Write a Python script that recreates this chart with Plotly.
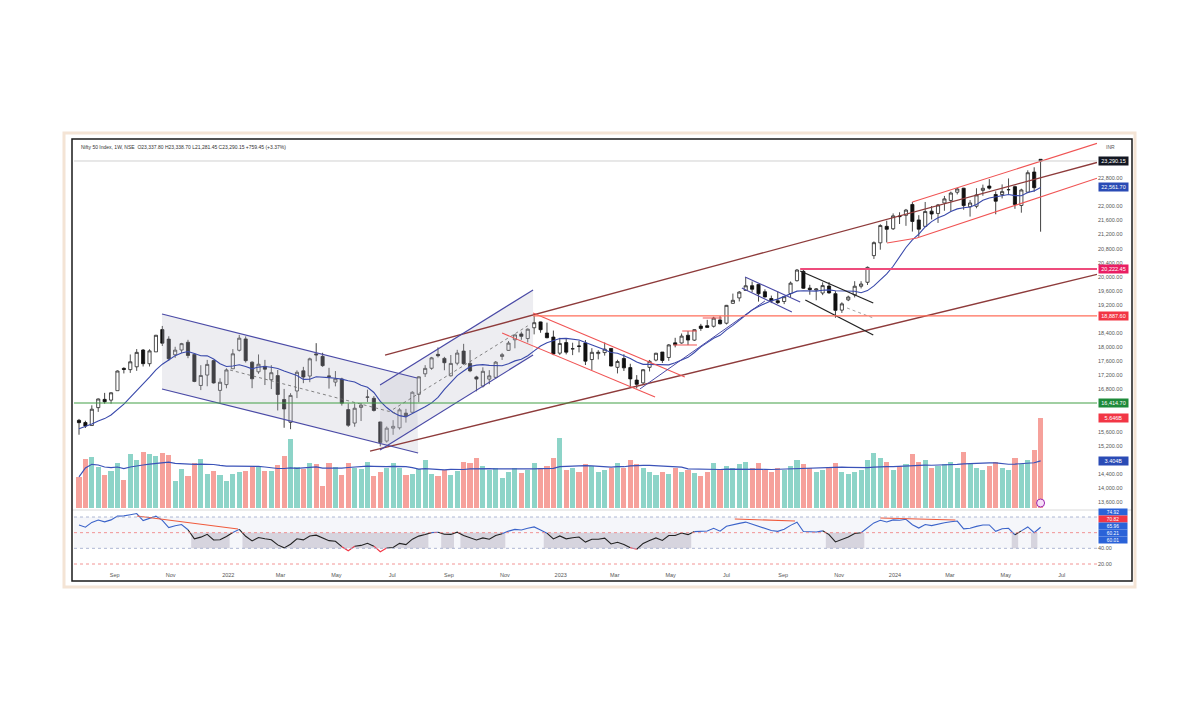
import numpy as np
import pandas as pd
import plotly.graph_objects as go

# ------------------------------------------------------------------ data
WEEK0 = "2021-07-19"   # first weekly bar (Monday)

opens = [15923,15860,15775,16283,16518,16497,16765,17399,17363,17443,17920,17531,17867,18500,18230,17784,17920,18140,17796,16913,17209,17619,16773,16937,
         17387,17913,18235,17575,17301,17456,17077,17193,16515,15867,16757,17329,17181,17810,17740,17183,17009,17097,16227,15845,16290,16578,16548,15877,15334,15700,15710,16128,16151,16662,17244,17402,17797,17682,17188,17546,17890,17540,17156,16898,17094,17144,17737,17910,18211,18377,18246,18552,18719,18402,18288,17831,
         18131,17953,18033,18119,17649,17818,17847,17965,17428,17680,17421,17066,16987,17428,17634,17863,17708,18124,18120,18340,18201,18600,18612,18595,18774,18682,19246,19400,19612,19748,19784,19576,19383,19320,19298,19525,19890,20155,19678,19622,19539,19737,19521,19053,19345,19486,19731,19844,20602,20965,21434,21365,
         21728,21747,22053,21615,21433,21865,21800,22096,22169,22403,22517,21990,22004,22455,22579,22339,22336,22475,22561,22027,22404,22977,23337.8]
highs = [15962,15911,16349,16543,16702,16722,17340,17430,17793,17947,17947,17941,18350,18604,18310,18012,18123,18210,17805,17489,17639,17640,17118,17400,
         17945,18350,18308,17599,17794,17640,17490,17352,16815,16694,17344,17442,17703,18115,17842,17414,17322,17132,16403,16400,16415,16794,16610,15886,15749,15927,16275,16248,16752,17172,17490,17724,17992,17726,17778,17925,18096,17919,17188,17428,17348,17607,17838,18175,18362,18442,18534,18888,18728,18697,18473,18266,
         18251,18127,18183,18202,17972,17916,18134,17972,17644,17800,17530,17207,17381,17638,17842,17863,18089,18267,18389,18459,18508,18663,18777,18865,18887,19201,19523,19595,19991,19867,19796,19645,19466,19584,19458,19867,20222,20195,19772,19675,19843,19849,19593,19276,19464,19875,19875,20292,21006,21493,21593,21801,
         21834,21928,22124,21750,22126,22011,22069,22297,22420,22526,22527,22180,22516,22619,22776,22427,22625,22794,22588,22502,23026,23111,23338.7]
lows = [15514,15705,15775,16162,16395,16396,16765,17255,17270,17327,17452,17452,17864,18034,17614,17697,17837,17688,17006,16782,16891,16966,16410,16833,
        17384,17879,17565,16836,17244,16925,16810,16203,15711,15671,16555,16978,17006,17600,17442,16824,16888,16341,15736,15740,15903,16444,16172,15183,15290,15511,15661,15858,16142,16438,17154,17359,17710,17345,17167,17487,17500,17291,16748,16856,16950,17098,17638,17899,17969,18210,18133,18365,18410,18255,17774,17779,
        17796,17775,17853,17494,17353,17653,17761,17455,17255,17325,16850,16828,16940,17312,17598,17553,17612,17996,18100,18060,18178,18465,18565,18558,18647,18647,19234,19300,19612,19563,19296,19412,19253,19229,19224,19425,19865,19657,19492,19333,19480,19518,18837,18973,19309,19414,19671,19768,20507,20770,20976,21330,
        21500,21448,21285,21137,21429,21629,21530,21876,21860,22340,21906,21711,21947,22303,22479,21777,22228,22348,21932,21821,22377,22418,21281.45]
closes = [15856,15763,16238,16529,16451,16705,17324,17369,17585,17853,17532,17895,18339,18115,17672,17917,18102,17765,17026,17197,17511,16985,17004,17354,
          17812,18256,17617,17102,17516,17375,17276,16658,16245,16630,17287,17153,17670,17784,17476,17172,17103,16411,15782,16266,16352,16584,16202,15293,15699,15752,16221,16049,16719,17158,17398,17698,17758,17559,17539,17833,17531,17327,17094,17315,17186,17576,17787,18117,18350,18308,18512,18696,18497,18269,17807,18105,
          17859,17956,18027,17604,17854,17856,17944,17465,17594,17413,17100,16945,17360,17599,17828,17624,18065,18069,18315,18203,18499,18534,18563,18826,18665,19189,19332,19565,19745,19646,19517,19428,19310,19266,19435,19820,20192,19674,19638,19654,19751,19543,19047,19231,19425,19732,19795,20268,20970,21457,21349,21731,
          21711,21895,21572,21353,21854,21783,22041,22213,22379,22494,22023,22097,22327,22514,22519,22147,22420,22476,22055,22467,22957,22531,23290.15]
# weekly closes before the visible window (Mar-Jul 2021), used only to warm up the indicators
warmup_closes = [14938,15031,14744,14507,14867,14835,14617,14341,14631,14823,14678,15175,15436,15670,15799,15683,15860,15722,15690,15923]

volumes_b = [1.94,3.06,3.19,2.56,2.06,2.31,2.81,1.75,3.38,3.00,3.50,3.38,3.25,3.44,3.31,1.69,2.44,2.00,2.81,3.06,
             2.13,2.31,2.06,1.69,2.13,2.25,2.31,2.56,2.63,2.31,2.31,2.69,3.25,4.31,2.56,2.44,2.81,2.75,1.38,2.81,
             2.56,2.06,2.81,2.50,2.44,2.88,2.00,2.25,2.50,2.81,2.50,2.06,2.13,2.44,3.00,2.13,2.00,2.38,2.06,2.31,2.88,
             2.81,3.13,2.63,2.38,2.50,1.88,2.25,2.50,2.19,
             2.38,2.81,2.50,2.63,3.13,4.38,2.38,2.50,2.25,2.75,
             2.63,2.25,2.38,2.50,2.81,2.50,3.00,2.75,2.50,2.25,
             2.06,2.25,2.13,2.50,2.25,2.38,2.19,2.00,2.25,2.81,
             2.38,2.63,2.50,2.75,2.88,2.50,2.81,2.38,2.25,2.50,
             2.38,2.63,3.00,2.75,2.50,2.25,2.38,2.50,2.81,2.25,
             2.13,2.25,2.38,3.00,3.44,3.13,2.88,2.38,2.63,2.75,
             3.38,2.88,3.00,2.50,2.63,2.75,2.88,2.50,3.50,2.75,
             2.50,2.38,2.63,2.88,2.50,2.38,3.13,2.75,3.00,3.63,5.646]

# price-scale tick labels that are not hidden behind a value box
price_tick_vals = [13600,14000,14400,15200,15600,16800,17200,17600,18000,18400,
                   19200,19600,20000,20400,20800,21200,21600,22000,22800]
month_tick_dates = ["2021-08-27","2021-10-27","2021-12-29","2022-02-24","2022-04-26","2022-06-26","2022-08-27",
                    "2022-10-27","2022-12-27","2023-02-24","2023-04-26","2023-06-26","2023-08-27","2023-10-27",
                    "2023-12-27","2024-02-25","2024-04-26","2024-06-26"]
month_tick_text = ["Sep","Nov","2022","Mar","May","Jul","Sep","Nov","2023","Mar","May","Jul","Sep","Nov",
                   "2024","Mar","May","Jul"]

header = "Nifty 50 Index, 1W, NSE  O23,337.80 H23,338.70 L21,281.45 C23,290.15 +759.45 (+3.37%)"

# drawings: anchor points as (week offset from WEEK0, price)
END_W = 158.8
trend_lines = [
    # weeks, prices, colour, width, dash
    ([47.74, END_W], [17778, 23248], "#8e3b3b", 1.3, "solid"),     # long upper
    ([45.4, END_W], [15051, 20071], "#8e3b3b", 1.3, "solid"),      # long lower
    ([12.95, 52.73], [18943, 17125], "#4a4aa6", 1.2, "solid"),     # falling channel top
    ([12.95, 52.9], [16813, 14994], "#4a4aa6", 1.2, "solid"),      # falling channel bottom
    ([23.56, 49.3], [17352, 16131], "#666666", 0.8, "dot"),
    ([46.96, 70.83], [16926, 19625], "#4a4aa6", 1.2, "solid"),     # rising channel top
    ([46.96, 70.83], [15080, 17778], "#4a4aa6", 1.2, "solid"),     # rising channel bottom
    ([49.0, 70.0], [16234, 18607], "#666666", 0.8, "dot"),
    ([70.83, 94.5], [18972, 17153], "#f05454", 1.1, "solid"),      # red falling channel
    ([66.0, 89.86], [18403, 16585], "#f05454", 1.1, "solid"),
    ([87.5, 107.0], [16813, 19313], "#4a4aa6", 1.0, "solid"),
    ([103.9, 112.5], [19994, 19284], "#4a4aa6", 1.1, "solid"),     # small flag
    ([103.4, 111.2], [19682, 19000], "#4a4aa6", 1.1, "solid"),
    ([112.5, 123.9], [20165, 19256], "#222222", 1.3, "solid"),     # black channel
    ([113.3, 123.9], [19341, 18347], "#222222", 1.3, "solid"),
    ([119.8, 123.9], [19114, 18830], "#888888", 0.8, "dot"),
    ([130.0, END_W], [22125, 23790], "#f05454", 1.1, "solid"),     # red rising channel
    ([126.05, 130.7, END_W], [20960, 21102, 22800], "#f05454", 1.1, "solid"),
    ([94.1, 96.4], [18460, 18460], "#f05454", 1.0, "solid"),
    ([92.7, 96.4], [18063, 18063], "#f05454", 1.0, "solid"),
    ([97.3, 100.3], [18830, 18830], "#f05454", 1.0, "solid"),
]
channel_fills = [
    ([12.95, 52.73, 52.9, 12.95], [18943, 17125, 14994, 16813]),
    ([46.96, 70.83, 70.83, 46.96], [16926, 19625, 17778, 15080]),
]
level_lines = [  # start week, price, colour, width
    (-1.0, 16414.70, "#43a047", 1.2),
    (70.83, 18887.60, "#ff6e5a", 1.2),
    (112.5, 20222.45, "#ee4c7c", 2.0),
]
rsi_divergence = [
    ([9.05, 24.8], [81.3, 64.7]),
    ([102.3, 111.7], [77.4, 74.9]),
    ([125.0, 136.7], [78.7, 76.2]),
]
price_boxes = [  # value, text, colour
    (23290.15, "23,290.15", "#131722"),
    (22561.70, "22,561.70", "#2a4bb5"),
    (20222.45, "20,222.45", "#e91e63"),
    (18887.60, "18,887.60", "#f23645"),
    (16414.70, "16,414.70", "#1e8a3a"),
]
rsi_boxes = [(86.4, "74.92", "#2a62d8"), (77.4, "70.82", "#f23645"), (68.5, "65.96", "#2a62d8"),
             (59.6, "60.21", "#2a62d8"), (50.6, "60.01", "#2a62d8")]

# ------------------------------------------------------------------ derived series
n = len(closes)
dates = pd.date_range(WEEK0, periods=n, freq="7D")
def wdate(w):
    return pd.Timestamp(WEEK0) + pd.Timedelta(days=7 * w)

all_c = pd.Series(warmup_closes + closes, dtype=float)
ma10 = all_c.rolling(10).mean().iloc[len(warmup_closes):].to_numpy()
delta = all_c.diff()
avg_g = delta.clip(lower=0).ewm(alpha=1 / 14, adjust=False).mean()
avg_l = (-delta.clip(upper=0)).ewm(alpha=1 / 14, adjust=False).mean()
rsi = (100 - 100 / (1 + avg_g / avg_l)).iloc[len(warmup_closes):].to_numpy()
vol_ma = pd.Series(volumes_b).rolling(20, min_periods=1).mean().to_numpy()
up = [c >= o for o, c in zip(opens, closes)]

# ------------------------------------------------------------------ geometry (page pixels)
OFF = 8                      # page body margin of the html file
FW, FH = 1200 - 2 * OFF, 720 - 2 * OFF
L, R, T, B = 74, 1097, 141, 570
W, H = R - L, B - T
def px(x): return (x - L) / W
def py(y): return (B - y) / H

fig = go.Figure()

for ws, ps in channel_fills:
    fig.add_trace(go.Scatter(x=[wdate(w) for w in ws] + [wdate(ws[0])], y=ps + [ps[0]],
                             fill="toself", fillcolor="rgba(190,190,205,0.28)",
                             line=dict(width=0), mode="lines", hoverinfo="skip"))

fig.add_trace(go.Candlestick(
    x=dates, open=opens, high=highs, low=lows, close=closes,
    increasing=dict(line=dict(color="#222222", width=0.8), fillcolor="#ffffff"),
    decreasing=dict(line=dict(color="#111111", width=0.8), fillcolor="#111111"),
    whiskerwidth=0, hoverinfo="skip"))

fig.add_trace(go.Scatter(x=dates, y=ma10, mode="lines", line=dict(color="#3949ab", width=1.1),
                         hoverinfo="skip"))

for ws, ps, col, wd, dash in trend_lines:
    fig.add_trace(go.Scatter(x=[wdate(w) for w in ws], y=ps, mode="lines",
                             line=dict(color=col, width=wd, dash=dash), hoverinfo="skip"))
for w0, val, col, wd in level_lines:
    fig.add_trace(go.Scatter(x=[wdate(w0), wdate(END_W)], y=[val, val], mode="lines",
                             line=dict(color=col, width=wd), hoverinfo="skip"))

# volume overlay
fig.add_trace(go.Bar(x=dates, y=volumes_b, yaxis="y2",
                     marker=dict(color=["#8dd4c8" if u else "#f6a19b" for u in up], line=dict(width=0)),
                     width=7 * 86400000 * 0.8, hoverinfo="skip"))
fig.add_trace(go.Scatter(x=dates, y=vol_ma, yaxis="y2", mode="lines",
                         line=dict(color="#3a52b8", width=1.2), hoverinfo="skip"))

# RSI coloured by zone
def zone(v):
    return "hi" if v >= 60 else ("lo" if v < 40 else "mid")
runs = []
for i in range(n - 1):
    z = zone((rsi[i] + rsi[i + 1]) / 2)
    if runs and runs[-1][0] == z:
        runs[-1][2] = i + 1
    else:
        runs.append([z, i, i + 1])
zcol = {"hi": "#3b63c9", "mid": "#222222", "lo": "#f23645"}
for z, a, b in runs:
    fig.add_trace(go.Scatter(x=dates[a:b + 1], y=rsi[a:b + 1], yaxis="y3", mode="lines",
                             line=dict(color=zcol[z], width=1.1), hoverinfo="skip"))
for ws, vs in rsi_divergence:
    fig.add_trace(go.Scatter(x=[wdate(w) for w in ws], y=vs, yaxis="y3", mode="lines",
                             line=dict(color="#f05a3c", width=1.1), hoverinfo="skip"))

shapes = []
shapes.append(dict(type="rect", xref="paper", yref="y3", x0=0, x1=1, y0=40, y1=80,
                   fillcolor="rgba(195,200,225,0.16)", line=dict(width=0), layer="below"))
below = rsi < 60
i = 0
half = pd.Timedelta(days=3.5)
while i < n:
    if below[i]:
        j = i
        while j + 1 < n and below[j + 1]:
            j += 1
        shapes.append(dict(type="rect", xref="x", yref="y3", x0=dates[i] - half, x1=dates[j] + half,
                           y0=40, y1=60, fillcolor="rgba(150,140,165,0.32)", line=dict(width=0),
                           layer="below"))
        i = j + 1
    else:
        i += 1
for lvl, col in [(80, "#9aa6c8"), (60, "#f07a7a"), (40, "#9aa6c8"), (20, "#f07a7a")]:
    shapes.append(dict(type="line", xref="paper", yref="y3", x0=0, x1=1, y0=lvl, y1=lvl,
                       line=dict(color=col, width=0.8, dash="dot")))
shapes.append(dict(type="line", xref="paper", yref="y", x0=0, x1=1, y0=closes[-1], y1=closes[-1],
                   line=dict(color="#c4c4c4", width=0.8)))
shapes.append(dict(type="line", xref="paper", yref="paper", x0=px(72), x1=px(1132), y0=py(510), y1=py(510),
                   line=dict(color="#d0d0d0", width=0.8)))
shapes.append(dict(type="rect", xref="paper", yref="paper", x0=px(64), x1=px(1135), y0=py(587), y1=py(133),
                   line=dict(color="#f4e4d5", width=3)))
shapes.append(dict(type="rect", xref="paper", yref="paper", x0=px(72), x1=px(1132), y0=py(581), y1=py(139),
                   line=dict(color="#1a1a1a", width=1.5)))
shapes.append(dict(type="circle", xref="x", xsizemode="pixel", xanchor=dates[-1], x0=-4, x1=4,
                   yref="paper", ysizemode="pixel", yanchor=py(503), y0=-4, y1=4,
                   line=dict(color="#9c27b0", width=1), fillcolor="#f6dff8"))

ann = []
ann.append(dict(xref="paper", yref="paper", x=px(79), y=py(147), xanchor="left", yanchor="middle",
                text=header, showarrow=False, font=dict(size=5, color="#333333")))
ann.append(dict(xref="paper", yref="paper", x=px(1104), y=py(147), xanchor="left", yanchor="middle",
                text="INR", showarrow=False, font=dict(size=5, color="#555555")))
def box(yref, yval, text, col, fs=5.5):
    return dict(xref="paper", yref=yref, x=px(1098), y=yval, xanchor="left", yanchor="middle",
                text=text, showarrow=False, font=dict(size=fs, color="white"), bgcolor=col,
                borderpad=1, width=27, align="center")
for v, t, c in price_boxes:
    ann.append(box("y", v, t, c))
ann.append(box("y2", volumes_b[-1], "5.646B", "#f23645"))
ann.append(box("y2", vol_ma[-1], "3.404B", "#2a4bb5"))
for v, t, c in rsi_boxes:
    a = box("y3", v, t, c, fs=4.8)
    a["borderpad"] = 0.5
    ann.append(a)

price_tick_text = [f"{v:,.2f}" for v in price_tick_vals]
axis_font = dict(size=5.5, color="#555555", family="Liberation Sans, Arial, sans-serif")

fig.update_layout(
    width=FW, height=FH, paper_bgcolor="white", plot_bgcolor="white",
    margin=dict(l=L - OFF, r=FW - (R - OFF), t=T - OFF, b=FH - (B - OFF)),
    showlegend=False, bargap=0,
    font=dict(family="Liberation Sans, Arial, sans-serif"),
    xaxis=dict(type="date", range=[wdate(-0.78), wdate(END_W)], anchor="y3",
               tickvals=month_tick_dates, ticktext=month_tick_text, tickfont=axis_font,
               showgrid=False, zeroline=False, showline=False, ticks="",
               rangeslider=dict(visible=False)),
    yaxis=dict(domain=[py(508), 1], range=[13432, 23858], side="right", anchor="x",
               tickvals=price_tick_vals, ticktext=price_tick_text, tickfont=axis_font,
               showgrid=False, zeroline=False, ticks=""),
    yaxis2=dict(domain=[py(508), 1], range=[0, (508 - T) / 16.0], overlaying="y", anchor="x",
                showticklabels=False, showgrid=False, zeroline=False),
    yaxis3=dict(domain=[0, py(511)], range=[12.34, 87.66], side="right", anchor="x",
                tickvals=[20, 40], ticktext=["20.00", "40.00"], tickfont=axis_font,
                showgrid=False, zeroline=False, ticks=""),
    shapes=shapes, annotations=ann,
)

fig.write_html("out.html")
